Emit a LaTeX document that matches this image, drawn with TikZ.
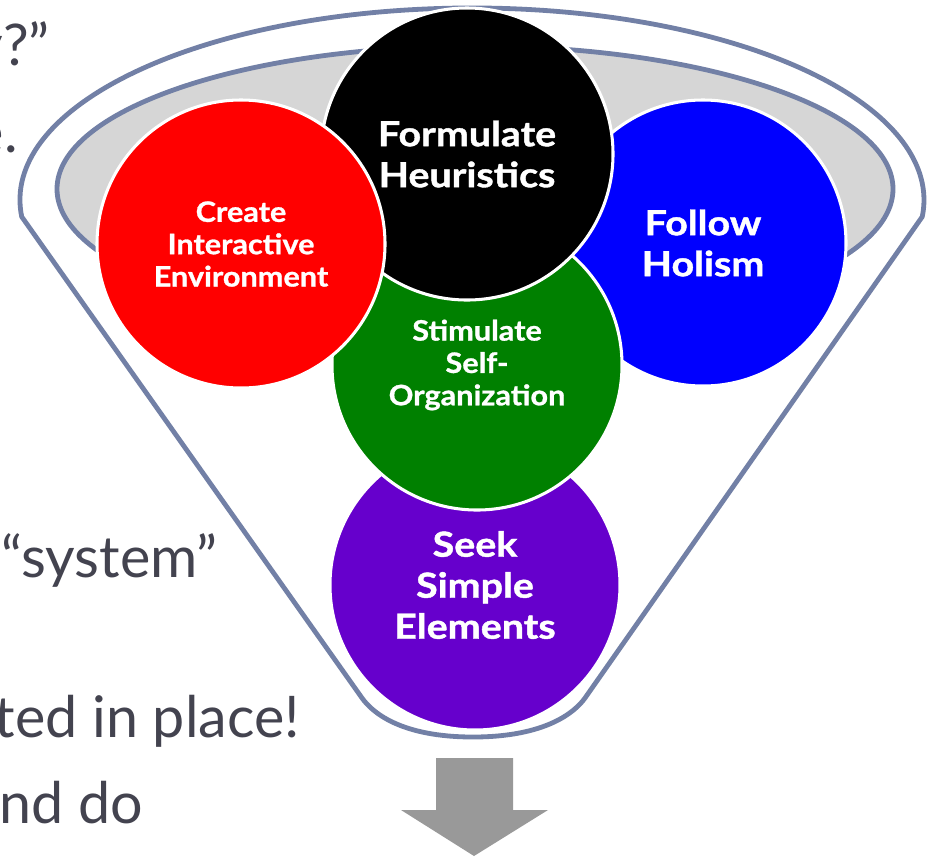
\documentclass[tikz,border=0pt]{standalone}
\usepackage{fontspec}
\setmainfont{Lato}
\newfontfamily\bigcircfont{Lato}[FakeStretch=1.14, BoldFeatures={FakeBold=1.2}]
\newfontfamily\smallcircfont{Lato}[FakeStretch=1.09, BoldFeatures={FakeBold=1.0}]
\definecolor{funnelc}{HTML}{7280A6}
\definecolor{rimgray}{HTML}{D6D6D6}
\definecolor{txtgray}{HTML}{43434F}
\definecolor{arrowgray}{HTML}{999999}
\definecolor{cgreen}{HTML}{008000}
\definecolor{cpurple}{HTML}{6600CC}
\begin{document}
\begin{tikzpicture}[x=0.03cm,y=-0.03cm,
  disc/.style={circle, inner sep=0pt, draw=white, line width=2.6pt, text=white, align=center},
  bigtxt/.style={font=\bigcircfont\bfseries\fontsize{29.5}{35}\selectfont},
  smalltxt/.style={font=\smallcircfont\bfseries\fontsize{24}{27.6}\selectfont},
  bgtxt/.style={text=txtgray, inner sep=0pt, font=\fontsize{49}{58}\selectfont},
  outline/.style={draw=funnelc, line width=4.1pt, line join=round}]
\clip (0,0) rectangle (927,856);
\fill[white] (0,0) rectangle (927,856);
% background slide text fragments
\node[bgtxt, anchor=base east] (t1) at (50,65) {y?”};
\node[bgtxt, anchor=base east] (t2) at (18,152) {e.};
\node[bgtxt, anchor=base east] (t3) at (218,577) {“system”};
\node[bgtxt, anchor=base east] (t4) at (300,737) {ted in place!};
\node[bgtxt, anchor=base east] (t5) at (143,823) {and do};
% funnel
\draw[outline, fill=white] (362,698) -- (21.7,216.7)
  arc[start angle=175, end angle=365, x radius=452, y radius=192]
  -- (585,698) .. controls (575,712) and (546,737) .. (473,737)
  .. controls (400,737) and (372,712) .. cycle;
\draw[outline, fill=rimgray] (475,189) ellipse[x radius=418, y radius=143];
% circles
\node[disc, fill=cpurple, minimum size=8.7cm, bigtxt] (seek) at (475,585) {Seek\\Simple\\Elements};
\node[disc, fill=blue, minimum size=8.58cm, bigtxt] (holism) at (703,243) {Follow\\Holism};
\node[disc, fill=cgreen, minimum size=8.7cm, smalltxt] (selforg) at (477,365) {Stimulate\\Self-\\Organization};
\node[disc, fill=black, minimum size=8.76cm, bigtxt] (heur) at (467,154) {Formulate\\Heuristics};
\node[disc, fill=red, minimum size=8.64cm, smalltxt] (env) at (241,244) {Create\\Interactive\\Environment};
% down arrow
\fill[arrowgray] (436,758) -- (513,758) -- (513,810) -- (548,810) -- (474,856)
  -- (401,810) -- (436,810) -- cycle;
\end{tikzpicture}
\end{document}
